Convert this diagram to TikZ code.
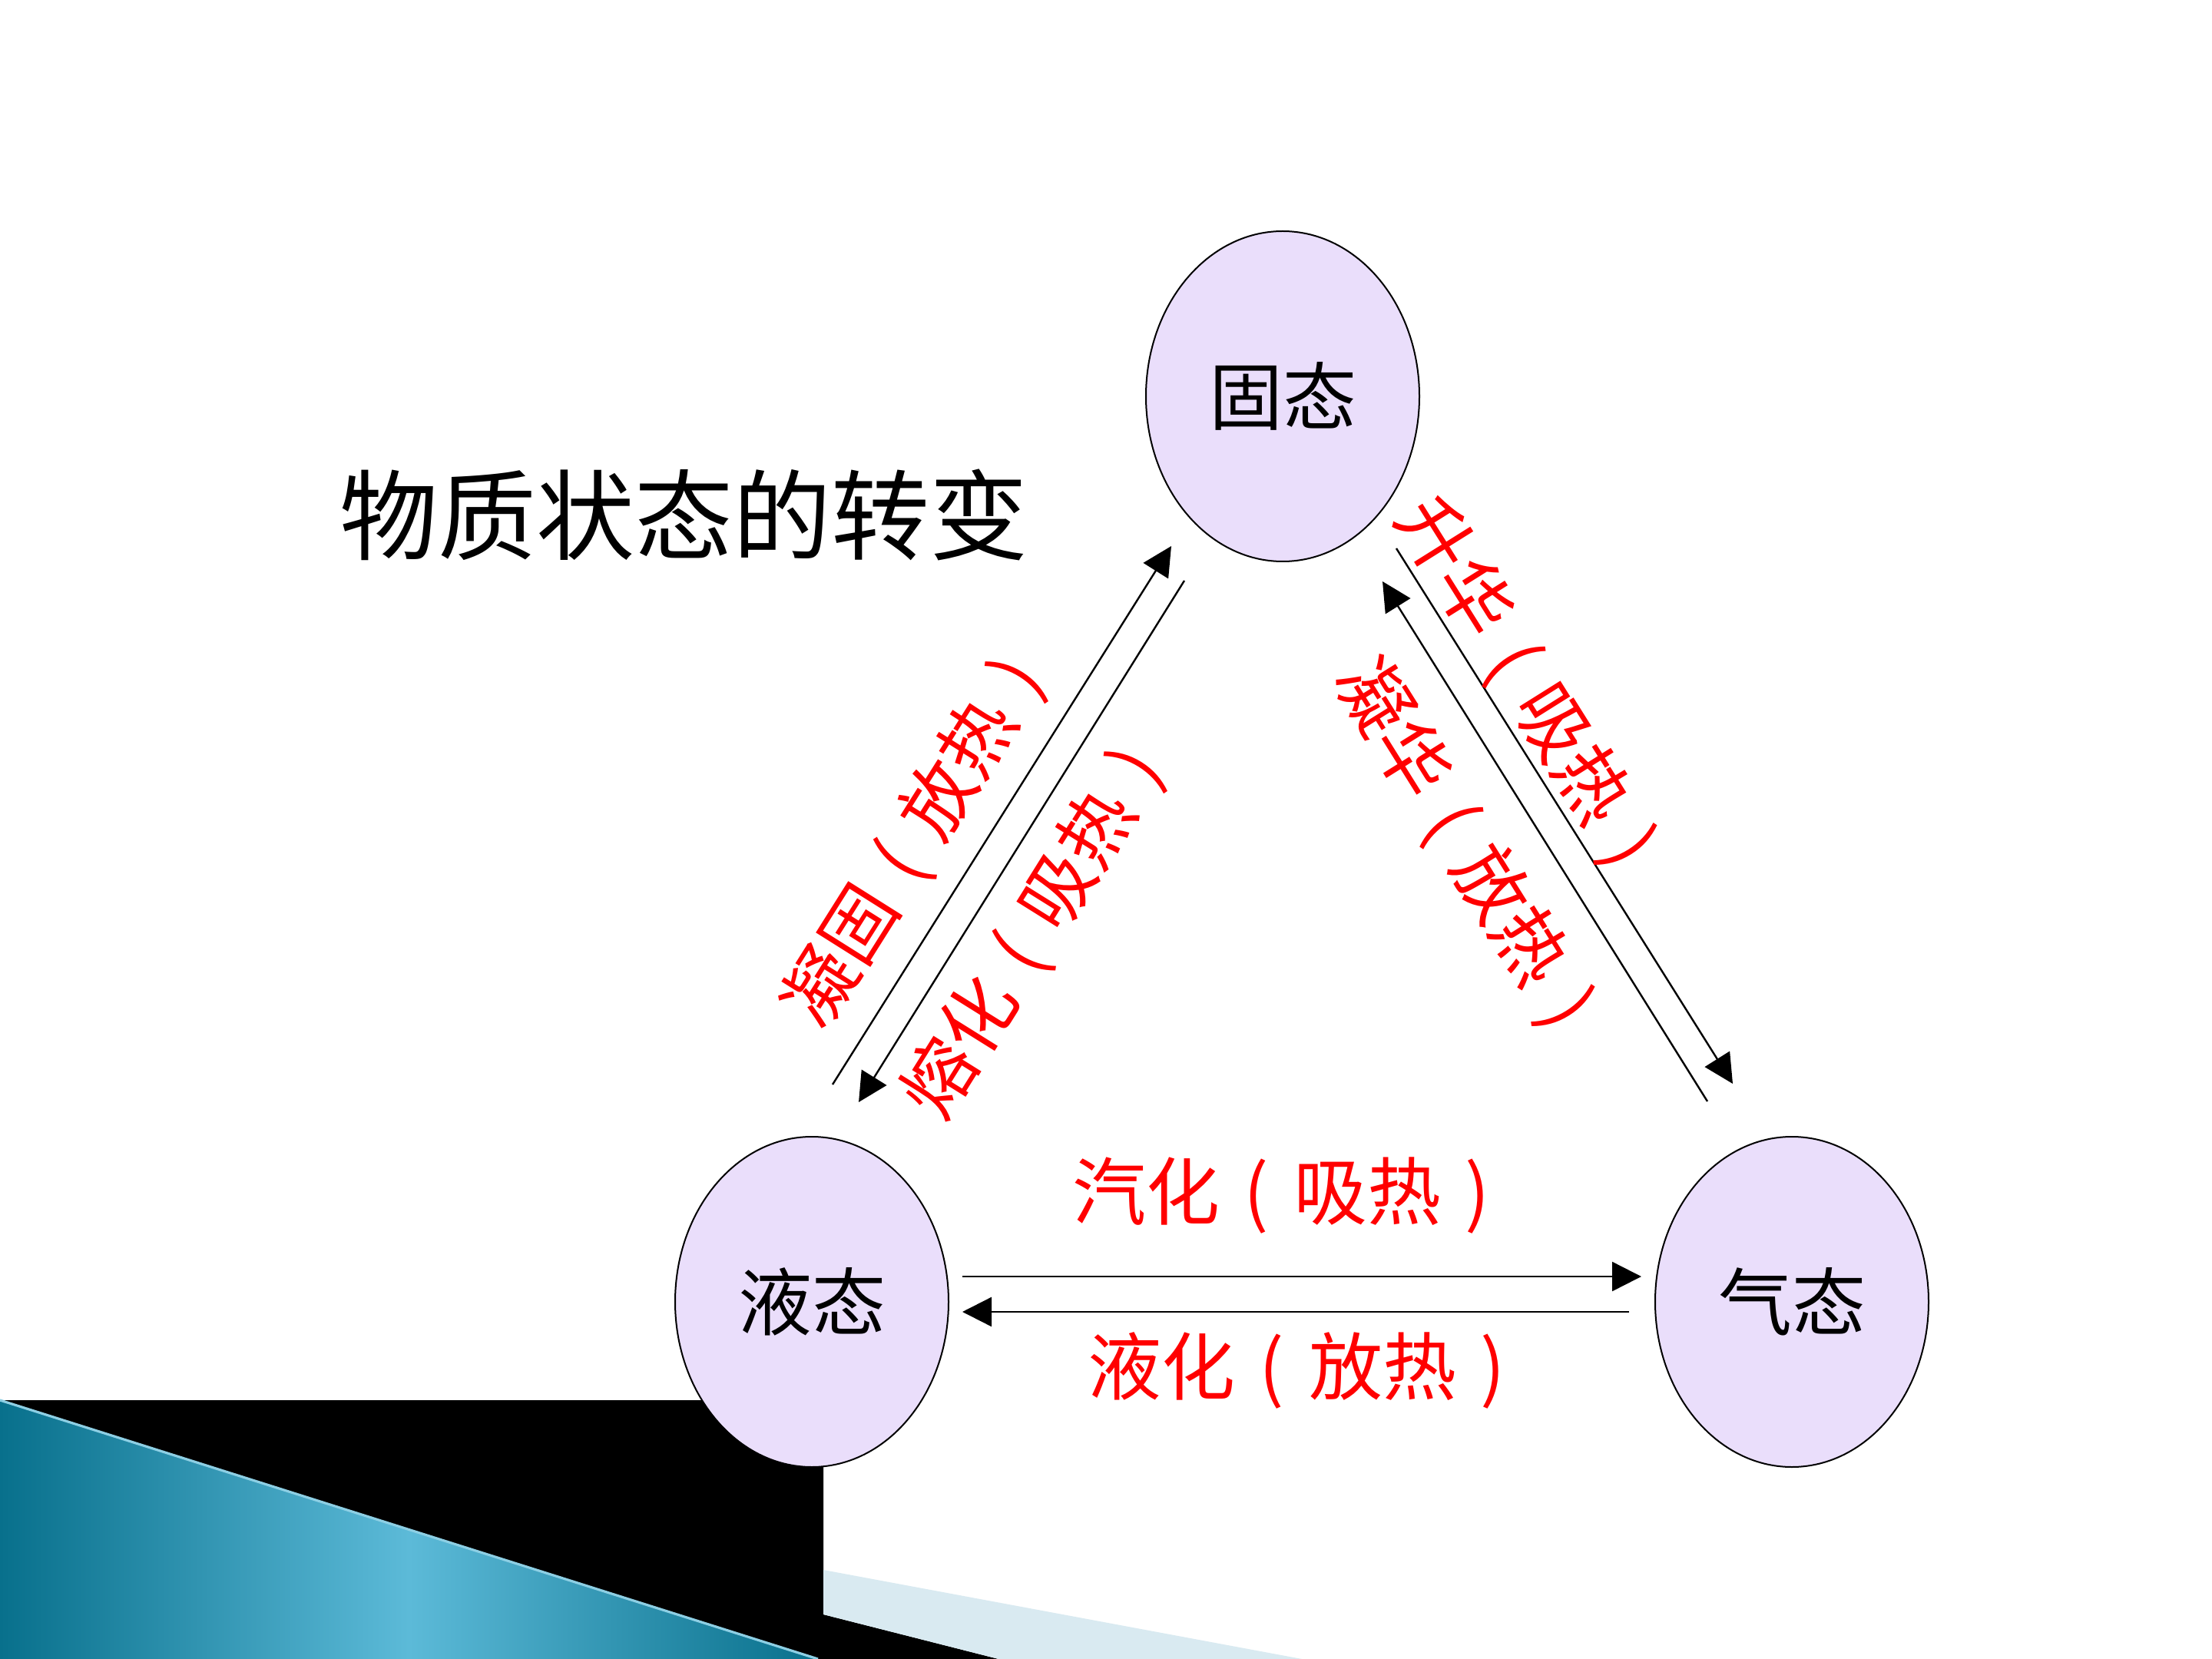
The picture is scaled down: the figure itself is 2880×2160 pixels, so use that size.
\documentclass[tikz,border=0pt]{standalone}
\usepackage{fontspec}
\setmainfont{Noto Sans CJK SC}
\usepackage{tikz}
\usetikzlibrary{arrows.meta,shapes.geometric}
\usepackage{xcolor}
\definecolor{statefill}{RGB}{234,222,251}
\definecolor{bandblue}{RGB}{217,234,241}
\definecolor{tealdark}{RGB}{8,112,140}
\definecolor{teallight}{RGB}{92,186,216}
% parentheses centred in a full character cell
\newcommand{\parL}{\makebox[1em]{(}}
\newcommand{\parR}{\makebox[1em]{)}}

\begin{document}
\begin{tikzpicture}[x=0.25pt,y=-0.25pt,>={Triangle[length=9.5pt,width=9.5pt]},
  state/.style={ellipse,draw,line width=0.5pt,fill=statefill,minimum width=89pt,minimum height=107.5pt,inner sep=0pt,font=\fontsize{24}{28}\selectfont},
  proc/.style={text=red,inner sep=0pt,font=\fontsize{24}{28}\selectfont},
  conv/.style={->,line width=0.6pt}]
\useasboundingbox (0,0) rectangle (2880,2160);
\fill[white] (0,0) rectangle (2880,2160);
% corner decoration
\fill[black] (0,1823) -- (1072,1823) -- (1072,2102) -- (1300,2160) -- (0,2160) -- cycle;
\fill[bandblue] (1072,2044) -- (1695,2160) -- (1300,2160) -- (1072,2102) -- cycle;
\shade[left color=tealdark,right color=tealdark,middle color=teallight] (0,1823) -- (1065,2160) -- (0,2160) -- cycle;
\draw[teallight!70!white,line width=0.8pt] (0,1823) -- (1065,2160);

\node[font=\fontsize{32}{38}\selectfont] (title) at (890,670) {物质状态的转变};

\node[state] (solid) at (1670,516) {固态};
\node[state] (liquid) at (1057,1695) {液态};
\node[state] (gas) at (2333,1695) {气态};

\coordinate (frz0) at (1084,1412); \coordinate (frz1) at (1525,711);
\coordinate (mlt0) at (1542,756);  \coordinate (mlt1) at (1118,1435);
\coordinate (sub0) at (1818,714);  \coordinate (sub1) at (2256,1411);
\coordinate (dep0) at (2223,1434); \coordinate (dep1) at (1800,757);
\coordinate (vap0) at (1253,1662); \coordinate (vap1) at (2137,1662);
\coordinate (liq0) at (2121,1708); \coordinate (liq1) at (1253,1708);

\draw[conv] (frz0) -- (frz1);
\draw[conv] (mlt0) -- (mlt1);
\draw[conv] (sub0) -- (sub1);
\draw[conv] (dep0) -- (dep1);
\draw[conv] (vap0) -- (vap1);
\draw[conv] (liq0) -- (liq1);

\node[proc,rotate=57.8] (frzlbl) at (1199,1084) {凝固\parL 放热\parR};
\node[proc,rotate=58] (mltlbl) at (1354,1202) {熔化\parL 吸热\parR};
\node[proc,rotate=-57.9] (sublbl) at (1994,902) {升华\parL 吸热\parR};
\node[proc,rotate=-58] (deplbl) at (1913,1112) {凝华\parL 放热\parR};
\node[proc] (vaplbl) at (1684,1557) {汽化\parL 吸热\parR};
\node[proc] (liqlbl) at (1704,1784) {液化\parL 放热\parR};
\end{tikzpicture}
\end{document}
